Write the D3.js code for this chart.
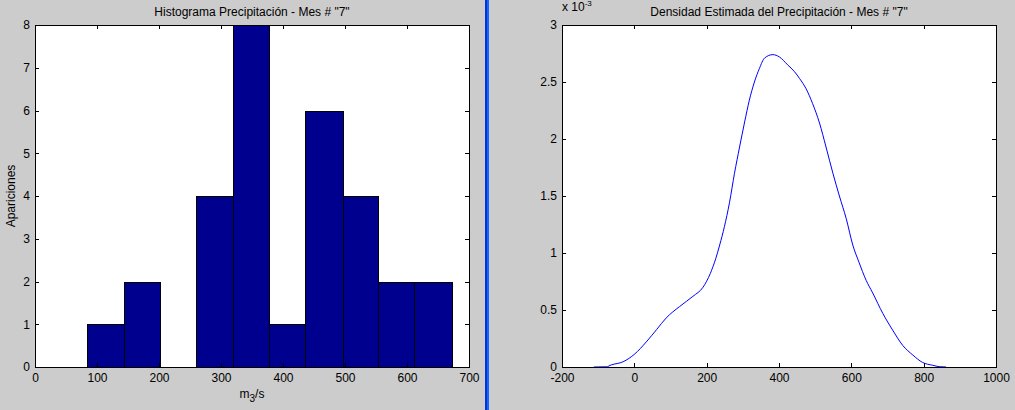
<!DOCTYPE html>
<html>
<head>
<meta charset="utf-8">
<script src="https://cdn.jsdelivr.net/npm/d3@7"></script>
<style>
  body { margin: 0; background: #cccccc; }
  svg { display: block; font-family: "Liberation Sans", Arial, sans-serif; }
  .axis text { font-size: 12px; fill: #000; }
  .axis line { stroke: #000; shape-rendering: crispEdges; }
  .axis path { display: none; }
</style>
</head>
<body>
<svg width="1015" height="410"></svg>
<script>
// histogram data (bin edges + counts)
const binEdges = [84, 143, 202, 260, 320, 377, 436, 496, 553, 611, 672];
const binCounts = [1, 2, 0, 4, 8, 1, 6, 4, 2, 2];
const histXTicks = [0, 100, 200, 300, 400, 500, 600, 700];
const histYTicks = [0, 1, 2, 3, 4, 5, 6, 7, 8];

// estimated density (y in units of 1e-3)
const densityX = [-112, -77, -64, -31, 1, 33, 62, 88, 125, 162, 190, 210, 225, 236, 249, 263, 277, 291, 305, 318, 332, 346, 360, 383, 401, 424, 443, 457, 475, 493, 512, 530, 549, 567, 586, 604, 621, 641, 659, 687, 714, 742, 770, 797, 825, 843, 862];
const densityY = [0, 0.002, 0.018, 0.046, 0.114, 0.22, 0.33, 0.43, 0.53, 0.62, 0.70, 0.82, 0.95, 1.07, 1.23, 1.44, 1.70, 1.93, 2.15, 2.34, 2.50, 2.62, 2.71, 2.74, 2.72, 2.65, 2.59, 2.53, 2.44, 2.31, 2.14, 1.93, 1.70, 1.50, 1.30, 1.07, 0.92, 0.76, 0.65, 0.47, 0.325, 0.19, 0.105, 0.04, 0.015, 0.003, 0];
const densXTicks = [-200, 0, 200, 400, 600, 800, 1000];
const densYTicks = [0, 0.5, 1, 1.5, 2, 2.5, 3];

const svg = d3.select('svg');
const plotTop = 25, plotBottom = 367;
const plainNum = d => String(d);   // keeps "-200" with a hyphen, no thousands comma

// divider between the two panels
svg.append('rect').attr('x', 485).attr('y', 0).attr('width', 2).attr('height', 410).attr('fill', '#0036d6');
svg.append('rect').attr('x', 487).attr('y', 0).attr('width', 2).attr('height', 410).attr('fill', '#1464ff');

function drawAxes(g, x, y, xTicks, yTicks) {
  const t = 4;
  g.append('g').attr('class', 'axis').attr('transform', 'translate(0,' + plotBottom + ')')
    .call(d3.axisBottom(x).tickValues(xTicks).tickSize(-t).tickSizeOuter(0).tickPadding(6).tickFormat(plainNum));
  g.append('g').attr('class', 'axis').attr('transform', 'translate(0,' + plotTop + ')')
    .call(d3.axisTop(x).tickValues(xTicks).tickSize(-t).tickSizeOuter(0).tickFormat(''));
  g.append('g').attr('class', 'axis').attr('transform', 'translate(' + x.range()[0] + ',0)')
    .call(d3.axisLeft(y).tickValues(yTicks).tickSize(-t).tickSizeOuter(0).tickPadding(5).tickFormat(plainNum));
  g.append('g').attr('class', 'axis').attr('transform', 'translate(' + x.range()[1] + ',0)')
    .call(d3.axisRight(y).tickValues(yTicks).tickSize(-t).tickSizeOuter(0).tickFormat(''));
  g.append('rect')
    .attr('x', x.range()[0] + 0.5).attr('y', plotTop + 0.5)
    .attr('width', x.range()[1] - x.range()[0]).attr('height', plotBottom - plotTop)
    .attr('fill', 'none').attr('stroke', '#000');
}

// ---- left: histogram
const x1 = d3.scaleLinear().domain([0, 700]).range([35, 469]);
const y1 = d3.scaleLinear().domain([0, 8]).range([plotBottom, plotTop]);
const g1 = svg.append('g');
g1.append('rect').attr('x', 35).attr('y', plotTop).attr('width', 434).attr('height', plotBottom - plotTop).attr('fill', '#fff');

const bins = binCounts.map((c, i) => ({ x0: binEdges[i], x1: binEdges[i + 1], n: c }));
g1.selectAll('.bar')
  .data(bins.filter(d => d.n > 0))
  .enter().append('rect')
  .attr('class', 'bar')
  .attr('x', d => Math.round(x1(d.x0)) + 0.5)
  .attr('y', d => Math.round(y1(d.n)) + 0.5)
  .attr('width', d => Math.round(x1(d.x1)) - Math.round(x1(d.x0)))
  .attr('height', d => Math.round(y1(0)) - Math.round(y1(d.n)))
  .attr('fill', '#00008f')
  .attr('stroke', '#000')
  .attr('stroke-width', 1);

drawAxes(g1, x1, y1, histXTicks, histYTicks);

g1.append('text').attr('x', 252).attr('y', 16).attr('text-anchor', 'middle').style('font-size', '12px')
  .text('Histograma Precipitación - Mes # "7"');
const xl = g1.append('text').attr('x', 252).attr('y', 398).attr('text-anchor', 'middle').style('font-size', '12px');
xl.append('tspan').text('m');
xl.append('tspan').attr('dy', 4).style('font-size', '10px').text('3');
xl.append('tspan').attr('dy', -4).text('/s');
g1.append('text').attr('transform', 'translate(15,196) rotate(-90)').attr('text-anchor', 'middle').style('font-size', '12px')
  .text('Apariciones');

// ---- right: density
const x2 = d3.scaleLinear().domain([-200, 1000]).range([562, 996]);
const y2 = d3.scaleLinear().domain([0, 3]).range([plotBottom, plotTop]);
const g2 = svg.append('g');
g2.append('rect').attr('x', 562).attr('y', plotTop).attr('width', 434).attr('height', plotBottom - plotTop).attr('fill', '#fff');

const pts = densityX.map((d, i) => [d, densityY[i]]);
g2.append('path')
  .datum(pts)
  .attr('d', d3.line().x(d => x2(d[0])).y(d => y2(d[1])).curve(d3.curveMonotoneX))
  .attr('fill', 'none')
  .attr('stroke', '#0000ff')
  .attr('stroke-width', 1);

drawAxes(g2, x2, y2, densXTicks, densYTicks);

g2.append('text').attr('x', 779).attr('y', 16).attr('text-anchor', 'middle').style('font-size', '12px')
  .text('Densidad Estimada del Precipitación - Mes # "7"');
const sc = g2.append('text').attr('x', 562).attr('y', 11).style('font-size', '12px');
sc.append('tspan').text('x 10');
sc.append('tspan').attr('dy', -5).style('font-size', '8px').text('-3');
</script>
</body>
</html>
